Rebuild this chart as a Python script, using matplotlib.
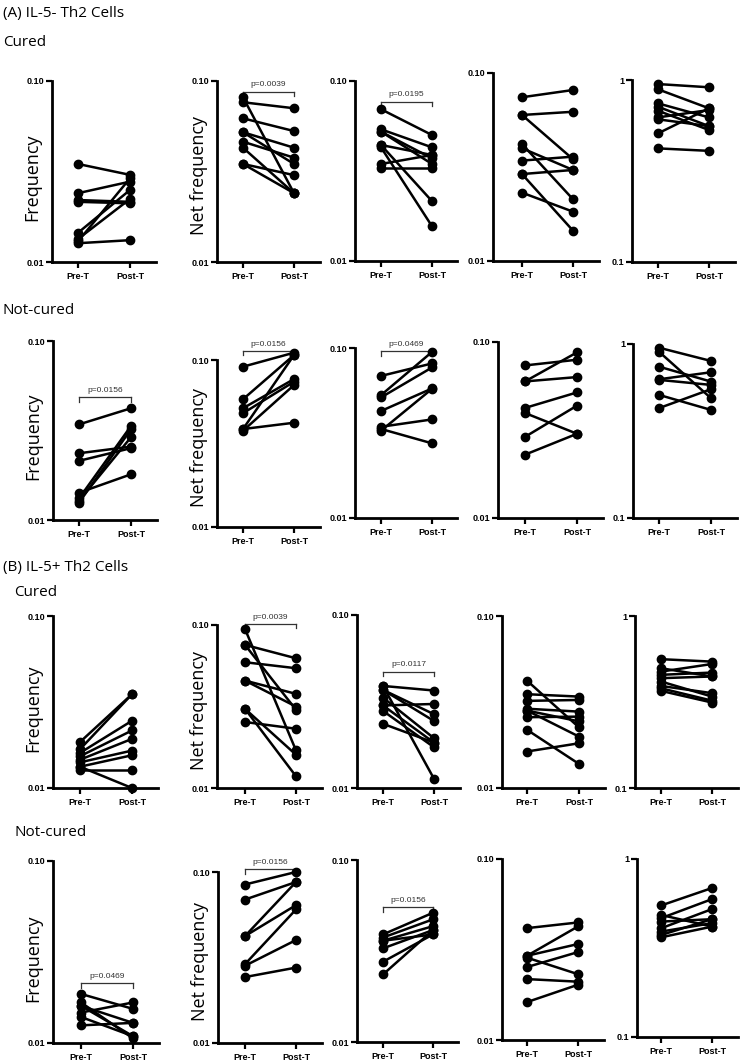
import matplotlib
matplotlib.use("Agg")
import matplotlib.pyplot as plt

W, H = 742, 1063

# ---------------- data ----------------
A_cured_freq_pre  = [0.0348, 0.0240, 0.0220, 0.0215, 0.0145, 0.0134, 0.0130, 0.0127]
A_cured_freq_post = [0.0303, 0.0278, 0.0215, 0.0211, 0.0250, 0.0223, 0.0290, 0.0132]
A_cured_net_pre   = [0.0813, 0.0763, 0.0622, 0.0521, 0.0521, 0.0462, 0.0428, 0.0348, 0.0348]
A_cured_net_post  = [0.0240, 0.0707, 0.0529, 0.0428, 0.0348, 0.0377, 0.0240, 0.0302, 0.0240]
A_cured_p3_pre    = [0.0697, 0.0539, 0.0523, 0.0441, 0.0441, 0.0428, 0.0346, 0.0327, 0.0523]
A_cured_p3_post   = [0.0501, 0.0428, 0.0372, 0.0388, 0.0215, 0.0156, 0.0388, 0.0327, 0.0346]
A_cured_p4_pre    = [0.0743, 0.0598, 0.0598, 0.0419, 0.0398, 0.0342, 0.0290, 0.0290, 0.0231]
A_cured_p4_post   = [0.0812, 0.0622, 0.0348, 0.0213, 0.0305, 0.0359, 0.0305, 0.0145, 0.0183]
A_cured_p5_pre    = [0.950, 0.889, 0.744, 0.713, 0.678, 0.623, 0.608, 0.509, 0.421]
A_cured_p5_post   = [0.912, 0.699, 0.623, 0.558, 0.531, 0.684, 0.558, 0.699, 0.408]

A_nc_freq_pre  = [0.0342, 0.0236, 0.0214, 0.0142, 0.0132, 0.0125, 0.0128]
A_nc_freq_post = [0.0421, 0.0257, 0.0252, 0.0180, 0.0335, 0.0321, 0.0290]
A_nc_net_pre   = [0.0912, 0.0582, 0.0514, 0.0480, 0.0386, 0.0377, 0.0386]
A_nc_net_post  = [0.1106, 0.1070, 0.0769, 0.0741, 0.1070, 0.0708, 0.0421]
A_nc_p3_pre    = [0.0685, 0.0528, 0.0512, 0.0426, 0.0344, 0.0334, 0.0326]
A_nc_p3_post   = [0.0811, 0.0948, 0.0768, 0.0578, 0.0380, 0.0275, 0.0575]
A_nc_p4_pre    = [0.0736, 0.0597, 0.0597, 0.0422, 0.0395, 0.0289, 0.0229]
A_nc_p4_post   = [0.0793, 0.0873, 0.0632, 0.0517, 0.0301, 0.0435, 0.0301]
A_nc_p5_pre    = [0.952, 0.903, 0.741, 0.627, 0.622, 0.510, 0.428]
A_nc_p5_post   = [0.799, 0.488, 0.608, 0.688, 0.582, 0.418, 0.550]

B_cured_freq_pre  = [0.0185, 0.0168, 0.0160, 0.0153, 0.0146, 0.0141, 0.0133, 0.0127, 0.0133]
B_cured_freq_post = [0.0351, 0.0351, 0.0246, 0.0216, 0.0193, 0.0165, 0.0155, 0.0127, 0.0100]
B_cured_net_pre   = [0.0945, 0.0755, 0.0755, 0.0591, 0.0456, 0.0456, 0.0306, 0.0306, 0.0254]
B_cured_net_post  = [0.0170, 0.0625, 0.0302, 0.0543, 0.0378, 0.0316, 0.0160, 0.0118, 0.0231]
B_cured_p3_pre    = [0.0389, 0.0389, 0.0369, 0.0369, 0.0333, 0.0300, 0.0300, 0.0279, 0.0235]
B_cured_p3_post   = [0.0113, 0.0366, 0.0267, 0.0244, 0.0194, 0.0306, 0.0183, 0.0172, 0.0183]
B_cured_p4_pre    = [0.0421, 0.0351, 0.0321, 0.0289, 0.0282, 0.0282, 0.0258, 0.0218, 0.0163]
B_cured_p4_post   = [0.0225, 0.0340, 0.0325, 0.0278, 0.0244, 0.0199, 0.0260, 0.0138, 0.0182]
B_cured_p5_pre    = [0.561, 0.497, 0.475, 0.455, 0.435, 0.416, 0.392, 0.380, 0.367]
B_cured_p5_post   = [0.543, 0.445, 0.526, 0.469, 0.445, 0.340, 0.356, 0.322, 0.314]

B_nc_freq_pre  = [0.0186, 0.0167, 0.0160, 0.0147, 0.0139, 0.0125, 0.0160]
B_nc_freq_post = [0.0154, 0.0106, 0.0129, 0.0167, 0.0109, 0.0129, 0.0109]
B_nc_net_pre   = [0.0845, 0.0690, 0.0422, 0.0422, 0.0289, 0.0283, 0.0243]
B_nc_net_post  = [0.1000, 0.0874, 0.0874, 0.0640, 0.0604, 0.0400, 0.0276]
B_nc_p3_pre    = [0.0390, 0.0375, 0.0360, 0.0327, 0.0276, 0.0235, 0.0360]
B_nc_p3_post   = [0.0513, 0.0472, 0.0433, 0.0412, 0.0390, 0.0412, 0.0390]
B_nc_p4_pre    = [0.0415, 0.0292, 0.0292, 0.0285, 0.0253, 0.0217, 0.0162]
B_nc_p4_post   = [0.0446, 0.0424, 0.0339, 0.0231, 0.0306, 0.0210, 0.0202]
B_nc_p5_pre    = [0.548, 0.485, 0.465, 0.445, 0.408, 0.391, 0.374, 0.363]
B_nc_p5_post   = [0.687, 0.417, 0.595, 0.459, 0.523, 0.436, 0.459, 0.417]

categories = ["Pre-T", "Post-T"]
freq_ticks = [0.01, 0.10]
freq_ticklabels = ["0.01", "0.10"]
ratio_ticks = [0.1, 1]
ratio_ticklabels = ["0.1", "1"]

# p-value annotations: (row, col, text, bracket height in data units)
pvalues = [
    (0, 1, "p=0.0039", 0.0873),
    (0, 2, "p=0.0195", 0.0767),
    (1, 0, "p=0.0156", 0.0485),
    (1, 1, "p=0.0156", 0.113),
    (1, 2, "p=0.0469", 0.0957),
    (2, 1, "p=0.0039", 0.101),
    (2, 2, "p=0.0117", 0.0471),
    (3, 0, "p=0.0469", 0.0213),
    (3, 1, "p=0.0156", 0.1037),
    (3, 2, "p=0.0156", 0.0549),
]

data = [
    [(A_cured_freq_pre, A_cured_freq_post), (A_cured_net_pre, A_cured_net_post),
     (A_cured_p3_pre, A_cured_p3_post), (A_cured_p4_pre, A_cured_p4_post),
     (A_cured_p5_pre, A_cured_p5_post)],
    [(A_nc_freq_pre, A_nc_freq_post), (A_nc_net_pre, A_nc_net_post),
     (A_nc_p3_pre, A_nc_p3_post), (A_nc_p4_pre, A_nc_p4_post),
     (A_nc_p5_pre, A_nc_p5_post)],
    [(B_cured_freq_pre, B_cured_freq_post), (B_cured_net_pre, B_cured_net_post),
     (B_cured_p3_pre, B_cured_p3_post), (B_cured_p4_pre, B_cured_p4_post),
     (B_cured_p5_pre, B_cured_p5_post)],
    [(B_nc_freq_pre, B_nc_freq_post), (B_nc_net_pre, B_nc_net_post),
     (B_nc_p3_pre, B_nc_p3_post), (B_nc_p4_pre, B_nc_p4_post),
     (B_nc_p5_pre, B_nc_p5_post)],
]

# ---------------- layout (pixels): axis-left, top, bottom, pre-x, post-x ----------------
layout = [
    [(52, 81, 262, 78, 130), (217, 81, 262, 243, 294), (355, 81, 261, 381, 432),
     (493, 73, 261, 522, 573), (632, 80, 262, 658, 709)],
    [(53, 341, 520, 79, 131), (217, 360, 527, 243, 294), (355, 348, 518, 381, 432),
     (498, 342, 518, 525, 577), (633, 344, 518, 659, 711)],
    [(53, 616, 788, 80, 132), (217, 625, 788, 245, 296), (357, 615, 788, 383, 434),
     (502, 616, 788, 527, 579), (635, 616, 788, 661, 712)],
    [(53, 861, 1043, 81, 133), (218, 872, 1043, 245, 296), (357, 860, 1042, 383, 433),
     (502, 859, 1040, 527, 578), (637, 859, 1037, 661, 712)],
]

TXT = ["Open Sans", "DejaVu Sans"]
TICKF = ["Liberation Sans Narrow", "Liberation Sans", "DejaVu Sans"]

fig = plt.figure(figsize=(W / 100, H / 100), dpi=100)

axes = {}
for r in range(4):
    for c in range(5):
        L, top, bot, P, Q = layout[r][c]
        u = Q - P
        xl = (L - P) / u
        xr = 1.5
        ax = fig.add_axes([L / W, 1 - bot / H, (xr - xl) * u / W, (bot - top) / H])
        axes[(r, c)] = ax
        pre, post = data[r][c]
        for a, b in zip(pre, post):
            ax.plot([0, 1], [a, b], color="black", lw=1.8, marker="o", ms=6,
                    clip_on=False, zorder=3)
        ax.set_yscale("log")
        if c == 4:
            ax.set_ylim(0.1, 1)
            ax.set_yticks(ratio_ticks)
            ax.set_yticklabels(ratio_ticklabels)
        else:
            ax.set_ylim(0.01, 0.1)
            ax.set_yticks(freq_ticks)
            ax.set_yticklabels(freq_ticklabels)
        ax.yaxis.set_minor_locator(matplotlib.ticker.NullLocator())
        ax.set_xlim(xl, xr)
        ax.set_xticks([0, 1])
        ax.set_xticklabels(categories)
        for s in ("top", "right"):
            ax.spines[s].set_visible(False)
        for s in ("left", "bottom"):
            ax.spines[s].set_linewidth(2.0)
        ax.tick_params(axis="both", which="major", width=1.6, length=4, direction="out",
                       pad=1.5, labelsize=6.5)
        ax.tick_params(axis="x", pad=3)
        for lab in ax.get_yticklabels() + ax.get_xticklabels():
            lab.set_fontweight("bold")
            lab.set_family(TICKF)
        ax.patch.set_alpha(0)
        if c == 0:
            fig.text((L - 20) / W, 1 - ((top + bot) / 2 + 6) / H, "Frequency",
                     rotation=90, ha="center", va="center", fontsize=13, family=TXT)
        elif c == 1:
            fig.text((L - 18) / W, 1 - ((top + bot) / 2 + 4) / H, "Net frequency",
                     rotation=90, ha="center", va="center", fontsize=13, family=TXT)

for r, c, txt, yb in pvalues:
    ax = axes[(r, c)]
    ax.plot([0, 1], [yb, yb], color="#333333", lw=0.9, clip_on=False)
    for xe in (0, 1):
        ax.plot([xe, xe], [yb, yb / 1.06], color="#333333", lw=0.9, clip_on=False)
    ax.annotate(txt, xy=(0.5, yb), xytext=(0, 2.5), textcoords="offset points",
                ha="center", va="bottom", fontsize=6, color="#333333", family=TICKF,
                annotation_clip=False)

# section titles
fig.text(3 / W, 1 - 14 / H, "(A) IL-5- Th2 Cells", ha="left", va="center", fontsize=11, family=TXT)
fig.text(3 / W, 1 - 43 / H, "Cured", ha="left", va="center", fontsize=11, family=TXT)
fig.text(3 / W, 1 - 311 / H, "Not-cured", ha="left", va="center", fontsize=11, family=TXT)
fig.text(3 / W, 1 - 567 / H, "(B) IL-5+ Th2 Cells", ha="left", va="center", fontsize=11, family=TXT)
fig.text(14 / W, 1 - 592 / H, "Cured", ha="left", va="center", fontsize=11, family=TXT)
fig.text(14 / W, 1 - 832 / H, "Not-cured", ha="left", va="center", fontsize=11, family=TXT)

fig.savefig("out.png", dpi=100)
